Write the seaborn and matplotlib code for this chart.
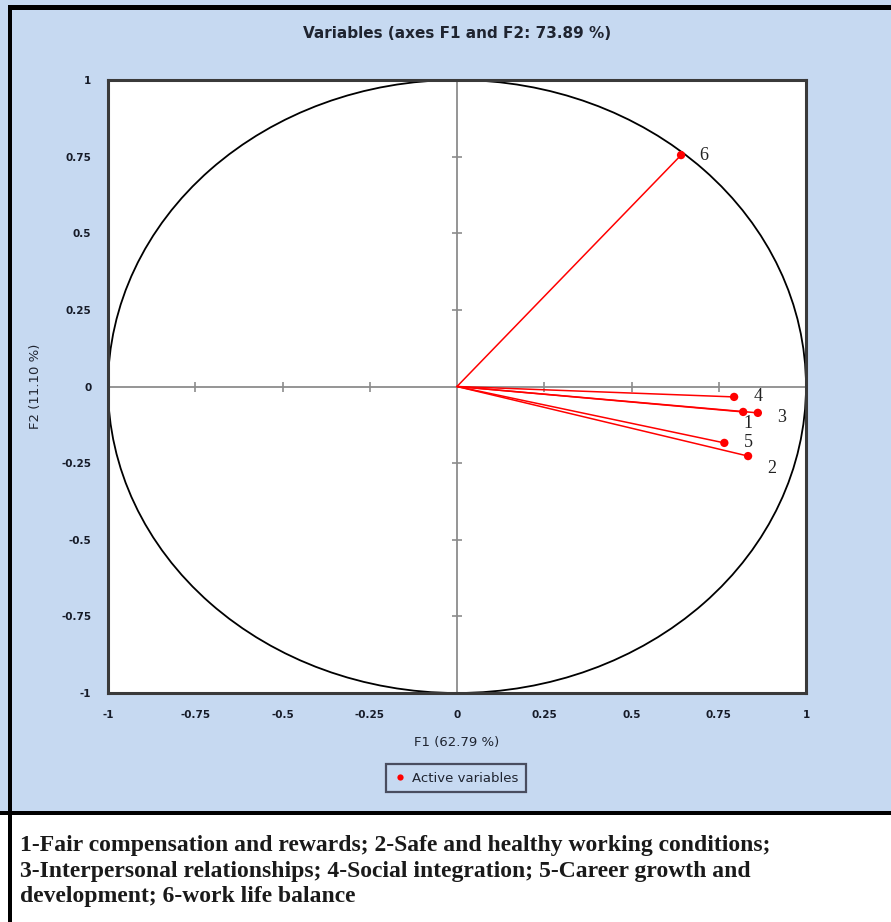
import numpy as np
import pandas as pd
import matplotlib
matplotlib.use("Agg")
import matplotlib.pyplot as plt
import seaborn as sns
from matplotlib.patches import Circle, Rectangle
from matplotlib.lines import Line2D

# ---- data ----
var_labels = ["1", "2", "3", "4", "5", "6"]
f1 = [0.820, 0.834, 0.862, 0.794, 0.766, 0.642]
f2 = [-0.083, -0.227, -0.086, -0.034, -0.184, 0.755]
tick_vals = [-1, -0.75, -0.5, -0.25, 0, 0.25, 0.5, 0.75, 1]
tick_text = ["-1", "-0.75", "-0.5", "-0.25", "0", "0.25", "0.5", "0.75", "1"]
title = "Variables (axes F1 and F2: 73.89 %)"
xlabel = "F1 (62.79 %)"
ylabel = "F2 (11.10 %)"
legend_label = "Active variables"
caption = ("1-Fair compensation and rewards; 2-Safe and healthy working conditions;\n"
           "3-Interpersonal relationships; 4-Social integration; 5-Career growth and\n"
           "development; 6-work life balance")

# label offsets in points (styling)
label_offsets = {"1": (3.6, -8.6), "2": (17, -8.6), "3": (17, -3.6),
                 "4": (17, 0), "5": (17, 0), "6": (16, 0)}

df = pd.DataFrame({"F1": f1, "F2": f2, "var": var_labels})

sns.set_style("white")
plt.rcParams["font.family"] = ["DejaVu Sans"]

BG = "#c6d9f1"
fig = plt.figure(figsize=(8.91, 9.22), dpi=100)
fig.patch.set_facecolor(BG)

W, H = 891, 922
def fx(px): return px / W
def fy(py): return 1 - py / H

# white caption region and borders
fig.patches.append(Rectangle((0, 0), 1, fy(813), transform=fig.transFigure,
                             facecolor="white", edgecolor="none", zorder=0))
fig.patches.append(Rectangle((0, fy(815)), 1, 4 / H, transform=fig.transFigure,
                             facecolor="black", edgecolor="none", zorder=1))
fig.patches.append(Rectangle((fx(8), 0), 4 / W, fy(5), transform=fig.transFigure,
                             facecolor="black", edgecolor="none", zorder=1))
fig.patches.append(Rectangle((fx(8), fy(10)), 1, 5 / H, transform=fig.transFigure,
                             facecolor="black", edgecolor="none", zorder=1))

ax = fig.add_axes([fx(108), fy(693), fx(806) - fx(108), fy(80) - fy(693)])
ax.set_facecolor("white")
ax.set_xlim(-1, 1)
ax.set_ylim(-1, 1)

# center lines
ax.axhline(0, color="#8c8c8c", lw=1.3, zorder=1)
ax.axvline(0, color="#8c8c8c", lw=1.3, zorder=1)
inner = [t for t in tick_vals if abs(t) not in (0, 1)]
ax.plot([0] * len(inner), inner, linestyle="none", marker="_", markersize=7,
        color="#8c8c8c", mew=1.2, zorder=1)
ax.plot(inner, [0] * len(inner), linestyle="none", marker="|", markersize=7,
        color="#8c8c8c", mew=1.2, zorder=1)

# unit circle
ax.add_patch(Circle((0, 0), 1, fill=False, edgecolor="black", lw=1.3, zorder=2))

# vectors
for x, y in zip(df["F1"], df["F2"]):
    ax.plot([0, x], [0, y], color="#ff0000", lw=1.1, zorder=3)

sns.scatterplot(data=df, x="F1", y="F2", ax=ax, color="#ff0000", s=36,
                edgecolor="none", zorder=4, legend=False)

for _, r in df.iterrows():
    dx, dy = label_offsets[r["var"]]
    ax.annotate(r["var"], (r["F1"], r["F2"]), xytext=(dx, dy),
                textcoords="offset points", ha="center", va="center",
                fontsize=13, family="Liberation Serif", color="#222222", zorder=5)

ax.set_xticks(tick_vals)
ax.set_xticklabels(tick_text)
ax.set_yticks(tick_vals)
ax.set_yticklabels(tick_text)
ax.tick_params(length=0, labelsize=7.5, labelcolor="#161b28", pad=9)
for lab in ax.get_xticklabels() + ax.get_yticklabels():
    lab.set_fontweight("bold")
ax.tick_params(axis="y", pad=12)
ax.tick_params(axis="x", pad=12)

for s in ax.spines.values():
    s.set_color("#3a3a3a")
    s.set_linewidth(2.2)
    s.set_visible(True)

ax.set_xlabel("")
ax.set_ylabel("")
fig.text(fx(457), fy(742), xlabel, ha="center", va="center", fontsize=9.5, color="#1f2430")
fig.text(fx(36), fy(386), ylabel, ha="center", va="center", rotation=90,
         fontsize=9.5, color="#1f2430")
fig.text(fx(457), fy(33), title, ha="center", va="center", fontsize=11,
         fontweight="bold", color="#1f2430")

handle = Line2D([], [], linestyle="none", marker="o", color="#ff0000",
                markersize=4.5, markeredgewidth=0)
leg = fig.legend([handle], [legend_label], loc="center",
                 bbox_to_anchor=(fx(456), fy(778)), frameon=True, fancybox=False,
                 fontsize=9.5, handlelength=1.0, handletextpad=0.4,
                 borderpad=0.6, borderaxespad=0)
leg.get_frame().set_facecolor(BG)
leg.get_frame().set_edgecolor("#2a2a3a")
leg.get_frame().set_linewidth(1.6)
for t in leg.get_texts():
    t.set_color("#1f2430")

fig.text(fx(20), fy(871), caption, ha="left", va="center", fontsize=17,
         family="Liberation Serif", fontweight="bold", color="#1a1a1a",
         linespacing=1.28)

fig.savefig("out.png", dpi=100, facecolor=BG)
